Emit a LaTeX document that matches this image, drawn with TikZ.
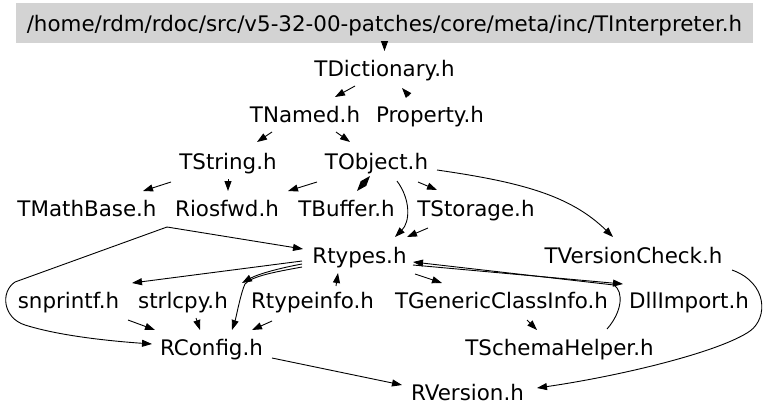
\documentclass[tikz,border=0pt]{standalone}
\usepackage{fontspec}
\setmainfont{DejaVu Sans}
\usetikzlibrary{arrows.meta}
\definecolor{titlegray}{RGB}{211,211,211}
\begin{document}
\begin{tikzpicture}[x=1pt,y=-1pt,
  lbl/.style={anchor=base, inner sep=0pt, font=\fontsize{21.4}{25}\selectfont},
  edge/.style={line width=0.9pt, -{Triangle[length=10pt,width=7pt]}},
  biedge/.style={line width=0.9pt, {Triangle[length=10pt,width=7pt]}-{Triangle[length=10pt,width=7pt]}},
]
\useasboundingbox (0,0) rectangle (768,418);

% nodes
\node[lbl, fill=titlegray, text height=28pt, text depth=12pt, minimum width=737pt] (title) at (384.5,31) {/home/rdm/rdoc/src/v5-32-00-patches/core/meta/inc/TInterpreter.h};
\node[lbl] (dict)     at (384.5,76)  {TDictionary.h};
\node[lbl] (named)    at (305,122)   {TNamed.h};
\node[lbl] (prop)     at (430,122)   {Property.h};
\node[lbl] (string)   at (228,169)   {TString.h};
\node[lbl] (object)   at (376.5,169) {TObject.h};
\node[lbl] (math)     at (87,216)    {TMathBase.h};
\node[lbl] (rios)     at (227,216)   {Riosfwd.h};
\node[lbl] (buffer)   at (346.5,216) {TBuffer.h};
\node[lbl] (storage)  at (476,216)   {TStorage.h};
\node[lbl] (rtypes)   at (359.5,263) {Rtypes.h};
\node[lbl] (vcheck)   at (633.5,263) {TVersionCheck.h};
\node[lbl] (snpr)     at (68.5,308)  {snprintf.h};
\node[lbl] (strl)     at (183,308)   {strlcpy.h};
\node[lbl] (rtinfo)   at (312.5,308) {Rtypeinfo.h};
\node[lbl] (tgci)     at (501.5,308) {TGenericClassInfo.h};
\node[lbl] (dll)      at (689,308)   {DllImport.h};
\node[lbl] (rconfig)  at (211.5,355) {RConfig.h};
\node[lbl] (schema)   at (559.5,355) {TSchemaHelper.h};
\node[lbl] (rversion) at (467.5,400) {RVersion.h};

% edges
\draw[edge] (title.south) -- ([shift={(0,-25)}]dict.base);
\draw[edge] ([shift={(-29.5,10)}]dict.base) -- ([shift={(30,-25)}]named.base);
\draw[edge] ([shift={(-21,-26)}]prop.base) -- ([shift={(17.5,12)}]dict.base);
\draw[edge] ([shift={(-33,10)}]named.base) -- ([shift={(29,-27)}]string.base);
\draw[edge] ([shift={(31,10)}]named.base) -- ([shift={(-26.5,-27)}]object.base);
\draw[edge] ([shift={(-57,13)}]string.base) -- ([shift={(56,-25)}]math.base);
\draw[edge] ([shift={(0,10)}]string.base) -- ([shift={(1,-25)}]rios.base);
\draw[edge] ([shift={(-59.5,13)}]object.base) -- ([shift={(61,-25)}]rios.base);
\draw[biedge] ([shift={(-6.5,7)}]object.base) -- ([shift={(10.5,-25)}]buffer.base);
\draw[edge] ([shift={(20.5,12)}]object.base) .. controls (411,200) and (410,222) .. ([shift={(35.5,-26)}]rtypes.base);
\draw[edge] ([shift={(41.5,13)}]object.base) -- ([shift={(-39,-26)}]storage.base);
\draw[edge] ([shift={(60.5,1)}]object.base) .. controls (520,182) and (570,195) .. ([shift={(-20.5,-26)}]vcheck.base);
\draw[edge] ([shift={(-48,12)}]storage.base) -- ([shift={(47.5,-26)}]rtypes.base);
\draw[edge] ([shift={(80,11)}]math.base) -- ([shift={(-56.5,-14)}]rtypes.base);
\draw[edge] ([shift={(80,11)}]math.base) -- (15,282) .. controls (0,292) and (3,318) .. (25,325) .. controls (60,336) and (110,341) .. ([shift={(-59.5,-11)}]rconfig.base);
\draw[edge] ([shift={(-57.5,-2)}]rtypes.base) -- ([shift={(63.5,-25)}]snpr.base);
\draw[edge] ([shift={(-57.5,1)}]rtypes.base) .. controls (280,268) and (258,274) .. ([shift={(59,-25)}]strl.base);
\draw[edge] ([shift={(-57.5,4)}]rtypes.base) .. controls (275,272) and (252,276) .. (245,284) .. controls (241,292) and (236,318) .. ([shift={(20.5,-25)}]rconfig.base);
\draw[edge] ([shift={(23.5,-22)}]rtinfo.base) -- ([shift={(-21.5,10)}]rtypes.base);
\draw[edge] ([shift={(55.5,11)}]rtypes.base) -- ([shift={(-59.5,-25)}]tgci.base);
\draw[edge] ([shift={(53.5,2)}]rtypes.base) -- ([shift={(-66,-24)}]dll.base);
\draw[edge] ([shift={(47.5,-26)}]schema.base) .. controls (622,312) and (624,292) .. (614,285) -- ([shift={(53.5,-1)}]rtypes.base);
\draw[edge] ([shift={(25.5,12)}]tgci.base) -- ([shift={(-22.5,-25)}]schema.base);
\draw[edge] ([shift={(98.5,7)}]vcheck.base) .. controls (768,283) and (768,318) .. (750,331) .. controls (720,352) and (620,376) .. ([shift={(69.5,-12)}]rversion.base);
\draw[edge] ([shift={(59.5,12)}]snpr.base) -- ([shift={(-56.5,-25)}]rconfig.base);
\draw[edge] ([shift={(13,10)}]strl.base) -- ([shift={(-11.5,-25)}]rconfig.base);
\draw[edge] ([shift={(-40.5,13)}]rtinfo.base) -- ([shift={(40.5,-25)}]rconfig.base);
\draw[edge] ([shift={(60.5,3)}]rconfig.base) -- ([shift={(-65.5,-15)}]rversion.base);
\end{tikzpicture}
\end{document}
